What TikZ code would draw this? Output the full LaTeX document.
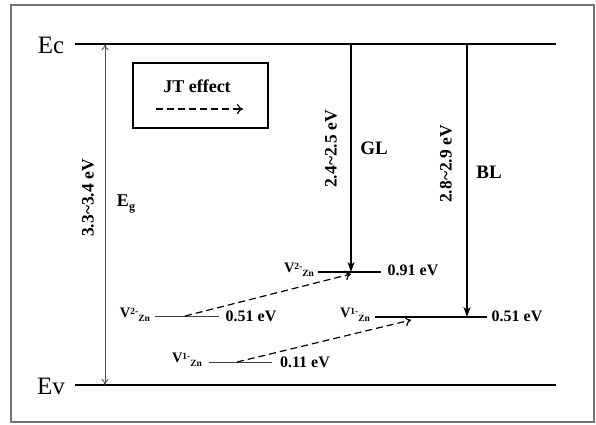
\documentclass[tikz,border=0pt]{standalone}
\usepackage{fontspec}
\setmainfont{Liberation Serif}
\usetikzlibrary{arrows.meta}
\tikzset{
  band/.style={line width=2pt,black},
  trans/.style={line width=2pt,black,-{Stealth[length=10pt,width=7pt,inset=3pt]}},
  gap/.style={line width=0.8pt,black!70,{To[length=6pt,width=7pt]}-{To[length=6pt,width=7pt]}},
  lvl/.style={line width=2pt,black},
  lvlthin/.style={line width=1pt,black!75},
  jt/.style={line width=1.2pt,black,dash pattern=on 7pt off 4pt,-{To[length=6pt,width=10pt]}},
  lab/.style={inner sep=0pt,font=\fontsize{16}{18}\selectfont\bfseries},
  jtlab/.style={inner sep=0pt,font=\fontsize{18}{20}\selectfont\bfseries},
  biglab/.style={inner sep=0pt,font=\fontsize{19}{22}\selectfont\bfseries},
  rlab/.style={inner sep=0pt,rotate=90,font=\fontsize{17.5}{20}\selectfont\bfseries},
  big/.style={inner sep=0pt,font=\fontsize{25}{28}\selectfont},
  vlab/.style={inner sep=0pt,font=\fontsize{14.5}{16}\selectfont\bfseries},
}
\newcommand{\vzn}[1]{V\raisebox{0.55ex}{\fontsize{9.5}{10}\selectfont #1}\raisebox{-0.6ex}{\fontsize{9.5}{10}\selectfont Zn}}
\begin{document}
\begin{tikzpicture}[x=1pt,y=-1pt]
\useasboundingbox (0,0) rectangle (596,424);
\fill[white] (0,0) rectangle (596,424);
% frame
\draw[line width=1.2pt,black!55] (11,5) rectangle (594,422);
% bands
\coordinate (ecL) at (75,44); \coordinate (ecR) at (556,44);
\coordinate (evL) at (75,385); \coordinate (evR) at (556,385);
\draw[band] (ecL) -- (ecR);
\draw[band] (evL) -- (evR);
\node[big] (ec) at (51,45) {Ec};
\node[big] (ev) at (51,386) {Ev};
% gap arrow
\coordinate (egT) at (105,44); \coordinate (egB) at (105,385);
\draw[gap] (egT) -- (egB);
\node[rlab] (eglab) at (88,198) {3.3\textasciitilde 3.4 eV};
\node[inner sep=0pt,font=\fontsize{18}{20}\selectfont\bfseries] (eg) at (126,204) {E\raisebox{-0.45ex}{\fontsize{12}{13}\selectfont g}};
% JT box
\draw[line width=1.8pt] (133,63) rectangle (268,128);
\node[jtlab] (jt) at (197,86) {JT effect};
\coordinate (jtA) at (156,109); \coordinate (jtB) at (243,109);
\draw[jt] (jtA) -- (jtB);
% right levels
\coordinate (l1a) at (318,272); \coordinate (l1b) at (381,272);
\draw[lvl] (l1a) -- (l1b);
\node[vlab] (v2u) at (299,270) {\vzn{2-}};
\node[lab] (e091) at (413,270) {0.91 eV};
\coordinate (l2a) at (375,317); \coordinate (l2b) at (487,317);
\draw[lvl] (l2a) -- (l2b);
\node[vlab] (v1u) at (355,315) {\vzn{1-}};
\node[lab] (e051r) at (517,316) {0.51 eV};
% left levels
\coordinate (l3a) at (155,316); \coordinate (l3b) at (219,316);
\draw[lvlthin] (l3a) -- (l3b);
\node[vlab] (v2l) at (135,315) {\vzn{2-}};
\node[lab] (e051l) at (251,316) {0.51 eV};
\coordinate (l4a) at (209,362); \coordinate (l4b) at (272,362);
\draw[lvlthin] (l4a) -- (l4b);
\node[vlab] (v1l) at (187,360) {\vzn{1-}};
\node[lab] (e011) at (305,362) {0.11 eV};
% transitions
\coordinate (glT) at (351,44); \coordinate (glB) at (351,272);
\draw[trans] (glT) -- (glB);
\node[rlab] (gllab) at (331,149) {2.4\textasciitilde 2.5 eV};
\node[biglab] (gl) at (374,148) {GL};
\coordinate (blT) at (467,44); \coordinate (blB) at (467,317);
\draw[trans] (blT) -- (blB);
\node[rlab] (bllab) at (446,164) {2.8\textasciitilde 2.9 eV};
\node[biglab] (bl) at (489,172) {BL};
% JT dashed arrows
\coordinate (j1s) at (185,316); \coordinate (j1e) at (351,274);
\draw[jt] (j1s) -- (j1e);
\coordinate (j2s) at (237,362); \coordinate (j2e) at (411,320);
\draw[jt] (j2s) -- (j2e);
\end{tikzpicture}
\end{document}
